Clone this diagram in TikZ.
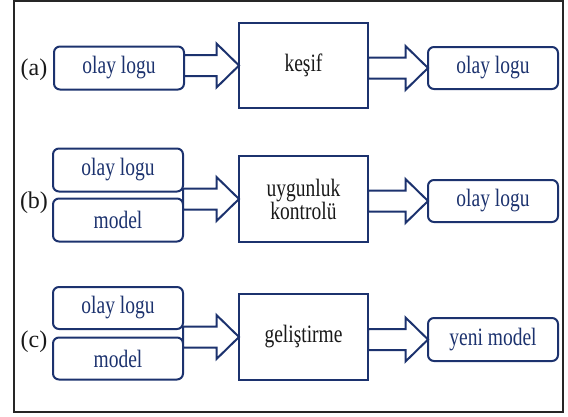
\documentclass[tikz,border=0pt]{standalone}
\usepackage{fontspec}
\setmainfont{Liberation Serif}
\newfontfamily\narrowserif[FakeStretch=0.78]{Liberation Serif}
\usetikzlibrary{calc}
\definecolor{navy}{RGB}{28,50,110}
\definecolor{ink}{RGB}{25,25,25}

% block arrow from the start point #1 to the tip #2 (horizontal, at the tip's height)
\newcommand\fatarrow[2]{%
  \path[blockarrow] let \p1=(#1), \p2=(#2) in
    (\x1,\y2+10.5pt) -- (\x2-22.5pt,\y2+10.5pt) -- (\x2-22.5pt,\y2+22pt) --
    (\p2) -- (\x2-22.5pt,\y2-22pt) -- (\x2-22.5pt,\y2-10.5pt) --
    (\x1,\y2-10.5pt) -- cycle;}

\begin{document}
\begin{tikzpicture}[x=1pt,y=-1pt,
  every node/.style={inner sep=0pt, outer sep=0pt},
  datum/.style={draw=navy, line width=2pt, rounded corners=6pt,
    minimum width=130pt, minimum height=43pt, text=navy,
    font=\narrowserif\fontsize{25}{23}\selectfont},
  proc/.style={draw=navy, line width=2pt, minimum width=129pt,
    minimum height=86pt, text=ink, align=center,
    font=\narrowserif\fontsize{25}{23}\selectfont},
  tag/.style={text=ink, font=\fontsize{24}{26}\selectfont},
  blockarrow/.style={draw=navy, line width=2pt, fill=white, line join=miter}]

\useasboundingbox (0,0) rectangle (568,416);
\draw[line width=2pt, black!85] (13.5,1) rectangle (563,412);

% (a) discovery
\node[tag] (la) at (34,70) {(a)};
\node[datum] (a1) at (119,68) {olay logu};
\node[proc, minimum height=85pt] (pa) at (303.5,65.5) {keşif};
\node[datum, minimum height=42pt] (ra) at (493,68) {olay logu};

% (b) conformance checking
\node[tag] (lb) at (34,203) {(b)};
\node[datum] (b1) at (118,170) {olay logu};
\node[datum] (b2) at (118,220) {model};
\node[proc] (pb) at (303.5,199) {uygunluk\\kontrolü};
\node[datum, minimum height=42pt] (rb) at (493,201) {olay logu};

% (c) enhancement
\node[tag] (lc) at (34,342) {(c)};
\node[datum, minimum height=42pt] (c1) at (118,308) {olay logu};
\node[datum, minimum height=42pt] (c2) at (118,358.5) {model};
\node[proc] (pc) at (303.5,337) {geliştirme};
\node[datum] (rc) at (493,339.5) {yeni model};

% arrows into the processes
\coordinate (ain) at (a1.east |- pa.west);
\coordinate (bin) at (b1.east |- pb.west);
\coordinate (cin) at (c1.east |- pc.west);
\fatarrow{ain}{pa.west}
\fatarrow{bin}{pb.west}
\fatarrow{cin}{pc.west}

% arrows out of the processes
\coordinate (aout) at (pa.east |- ra.west);
\coordinate (bout) at (pb.east |- rb.west);
\coordinate (cout) at (pc.east |- rc.west);
\fatarrow{aout}{ra.west}
\fatarrow{bout}{rb.west}
\fatarrow{cout}{rc.west}
\end{tikzpicture}
\end{document}
